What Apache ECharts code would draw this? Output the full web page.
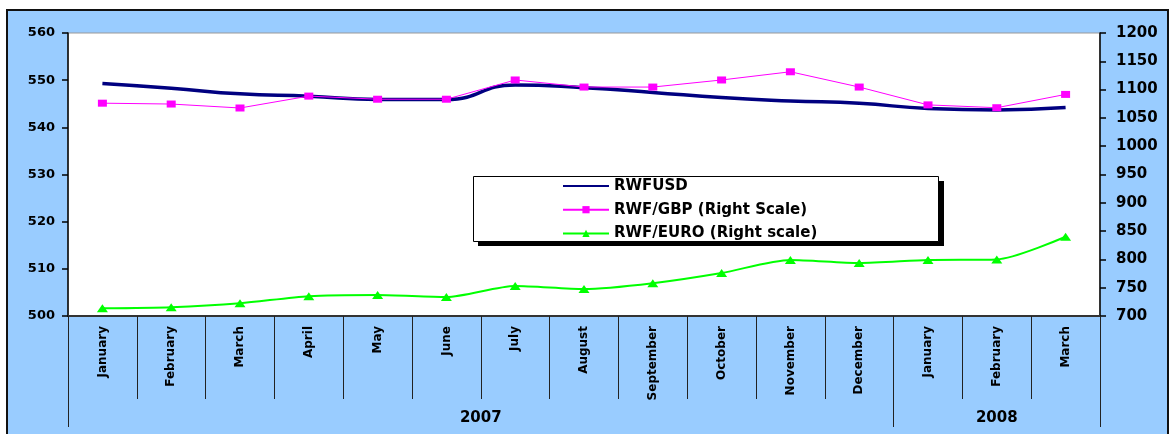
<!DOCTYPE html>
<html>
<head>
<meta charset="utf-8">
<script src="https://cdn.jsdelivr.net/npm/echarts@6/dist/echarts.min.js"></script>
<style>
html,body{margin:0;padding:0;background:#fff;}
#chart{width:1175px;height:434px;}
</style>
</head>
<body>
<div id="chart"></div>
<script>
var months = ['January','February','March','April','May','June','July','August','September','October','November','December','January','February','March'];
var yearLabels = ['2007','2008'];
var yearSpans = [12, 3];
var rwfUsd = [549.3, 548.3, 547.1, 546.6, 545.9, 545.9, 549.0, 548.4, 547.4, 546.3, 545.6, 545.1, 544.0, 543.7, 544.2];
var rwfGbp = [1076, 1074.5, 1067.5, 1088.5, 1083, 1083, 1117, 1104.5, 1104.5, 1117, 1131.5, 1104.5, 1073, 1068, 1091.5];
var rwfEuro = [713.5, 715.5, 722.5, 735, 737, 733.5, 753, 747.5, 758, 776, 799, 793.5, 799, 800, 840];
var leftTicks = {min: 500, max: 560, interval: 10};
var rightTicks = {min: 700, max: 1200, interval: 50};
var seriesNames = ['RWFUSD', 'RWF/GBP (Right Scale)', 'RWF/EURO (Right scale)'];

var yearBounds = [0];
var yearCenters = [];
(function(){
  var acc = 0;
  for (var i = 0; i < yearSpans.length; i++) {
    yearCenters.push(acc + yearSpans[i] / 2);
    acc += yearSpans[i];
    yearBounds.push(acc);
  }
})();

var FONT = 'DejaVu Sans';
var chart = echarts.init(document.getElementById('chart'), null, {renderer: 'canvas'});
chart.setOption({
  animation: false,
  backgroundColor: '#fff',
  graphic: [
    {type: 'rect', z: -10, shape: {x: 7, y: 10, width: 1161, height: 440},
     style: {fill: '#99CCFF', stroke: '#111', lineWidth: 2}},
    {type: 'rect', z: 3, shape: {x: 478, y: 181, width: 466, height: 65},
     style: {fill: '#000'}},
    {type: 'rect', z: 3, shape: {x: 473.5, y: 176.5, width: 465, height: 65},
     style: {fill: '#fff', stroke: '#000', lineWidth: 1}}
  ],
  legend: {
    data: [
      {name: seriesNames[0], itemStyle: {color: 'rgba(0,0,0,0)', borderWidth: 0, opacity: 0}},
      {name: seriesNames[1]},
      {name: seriesNames[2]}
    ],
    orient: 'vertical',
    left: 562,
    top: 178.5,
    padding: 0,
    itemWidth: 46,
    itemHeight: 9,
    itemGap: 8.7,
    z: 6,
    textStyle: {fontFamily: FONT, fontWeight: 'bold', fontSize: 15, lineHeight: 14, color: '#000', padding: [0,0,0,0]}
  },
  grid: {
    left: 68, right: 75, top: 33, bottom: 118,
    show: true, backgroundColor: '#fff', borderColor: '#999', borderWidth: 1
  },
  xAxis: [
    {
      type: 'category',
      data: months,
      boundaryGap: true,
      axisLine: {lineStyle: {color: '#333', width: 2}},
      axisTick: {show: true, interval: 0, length: 83, lineStyle: {color: '#222', width: 1}},
      axisLabel: {interval: 0, rotate: 90, margin: 10, fontFamily: FONT, fontWeight: 'bold', fontSize: 12, color: '#000'},
      splitLine: {show: false}
    },
    {
      type: 'value',
      position: 'bottom',
      min: 0,
      max: yearBounds[yearBounds.length - 1],
      axisLine: {show: false},
      axisTick: {show: true, customValues: yearBounds, length: 111, lineStyle: {color: '#222', width: 1}},
      axisLabel: {
        show: true, customValues: yearCenters, margin: 95,
        fontFamily: FONT, fontWeight: 'bold', fontSize: 15, color: '#000',
        formatter: function (v) {
          for (var i = 0; i < yearCenters.length; i++) { if (Math.abs(yearCenters[i] - v) < 1e-6) return yearLabels[i]; }
          return '';
        }
      },
      splitLine: {show: false}
    }
  ],
  yAxis: [
    {
      type: 'value', position: 'left',
      min: leftTicks.min, max: leftTicks.max, interval: leftTicks.interval,
      axisLine: {show: true, lineStyle: {color: '#000', width: 1.5}},
      axisTick: {show: true, length: 6, lineStyle: {color: '#000', width: 1.5}},
      axisLabel: {margin: 13, fontFamily: FONT, fontWeight: 'bold', fontSize: 13, color: '#000',
        formatter: function (v) { return String(v); }},
      splitLine: {show: false}
    },
    {
      type: 'value', position: 'right',
      min: rightTicks.min, max: rightTicks.max, interval: rightTicks.interval,
      axisLine: {show: true, lineStyle: {color: '#000', width: 1.5}},
      axisTick: {show: true, length: 6, lineStyle: {color: '#000', width: 1.5}},
      axisLabel: {margin: 16, fontFamily: FONT, fontWeight: 'bold', fontSize: 15, color: '#000',
        formatter: function (v) { return String(v); }},
      splitLine: {show: false}
    }
  ],
  series: [
    {
      name: seriesNames[0], type: 'line', xAxisIndex: 0, yAxisIndex: 0,
      data: rwfUsd, smooth: true, symbol: 'none',
      lineStyle: {color: '#000080', width: 3.5},
      itemStyle: {color: '#000080'}
    },
    {
      name: seriesNames[1], type: 'line', xAxisIndex: 0, yAxisIndex: 1,
      data: rwfGbp, smooth: false, symbol: 'rect', symbolSize: [9, 7],
      lineStyle: {color: '#FF00FF', width: 1},
      itemStyle: {color: '#FF00FF'}
    },
    {
      name: seriesNames[2], type: 'line', xAxisIndex: 0, yAxisIndex: 1,
      data: rwfEuro, smooth: 0.25, symbol: 'triangle', symbolSize: [11, 8],
      lineStyle: {color: '#00FF00', width: 2},
      itemStyle: {color: '#00FF00'}
    }
  ]
});
</script>
</body>
</html>
